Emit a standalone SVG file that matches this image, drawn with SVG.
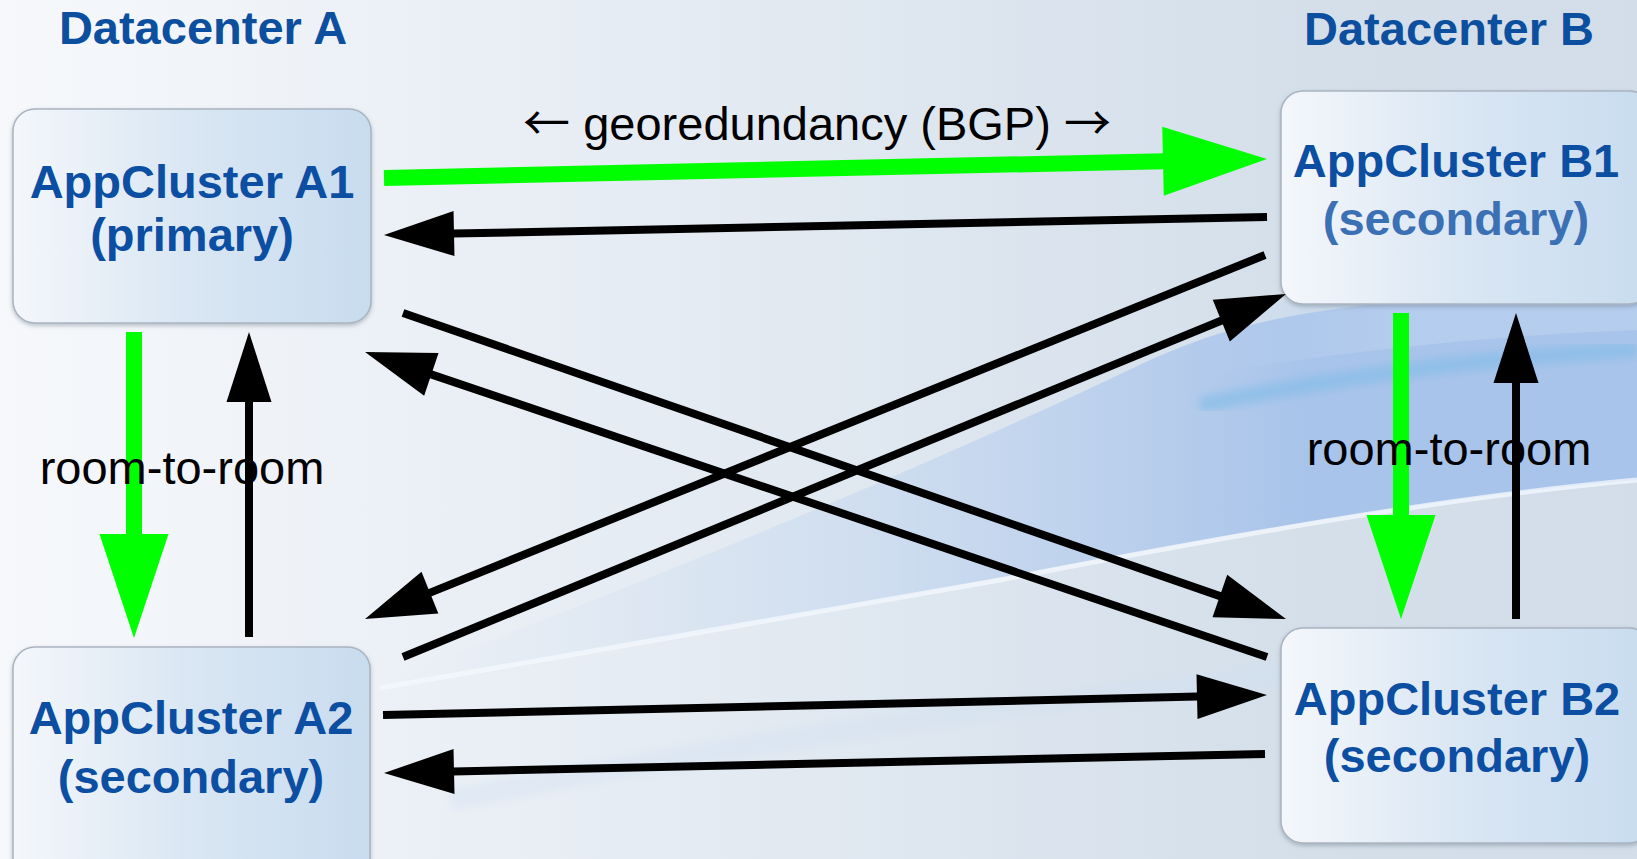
<svg xmlns="http://www.w3.org/2000/svg" width="1637" height="859" viewBox="0 0 1637 859">
<style>
.hdr{font-family:"Liberation Sans",Arial,sans-serif;font-weight:bold;font-size:47px;fill:#0c4f9e;text-anchor:middle}
.nt{font-family:"Liberation Sans",Arial,sans-serif;font-weight:bold;font-size:47px;fill:#0b4ea2;text-anchor:middle}
.lbl{font-family:"Liberation Sans",Arial,sans-serif;font-size:47px;fill:#000}
.arw{font-family:"Noto Sans CJK JP","Noto Sans",sans-serif}
.box{fill:url(#boxg);stroke:#aab4c0;stroke-width:1.5}
.blk{stroke:#000;stroke-width:8;fill:none}
.grn{stroke:#00ff00;stroke-width:16;fill:none}
</style>
<defs>
<linearGradient id="bg" x1="0" y1="0" x2="1" y2="0">
<stop offset="0" stop-color="#f6f8fb"/>
<stop offset="0.45" stop-color="#e3eaf2"/>
<stop offset="0.8" stop-color="#d4dfea"/>
<stop offset="1" stop-color="#d2dde9"/>
</linearGradient>
<linearGradient id="band" gradientUnits="userSpaceOnUse" x1="400" y1="0" x2="1300" y2="0">
<stop offset="0" stop-color="#d5e2f2" stop-opacity="0"/>
<stop offset="0.55" stop-color="#c6d8ef" stop-opacity="0.7"/>
<stop offset="1" stop-color="#a9c4ea" stop-opacity="1"/>
</linearGradient>
<linearGradient id="patch" gradientUnits="userSpaceOnUse" x1="1200" y1="0" x2="1400" y2="0">
<stop offset="0" stop-color="#bcd3f0" stop-opacity="0"/>
<stop offset="1" stop-color="#bcd3f0" stop-opacity="0.6"/>
</linearGradient>
<linearGradient id="boxg" x1="0" y1="0" x2="1" y2="0">
<stop offset="0" stop-color="#f4f7fb"/>
<stop offset="0.5" stop-color="#d9e6f3"/>
<stop offset="1" stop-color="#c8dcef"/>
</linearGradient>
<filter id="sh" x="-10%" y="-10%" width="120%" height="130%">
<feDropShadow dx="0" dy="2" stdDeviation="2" flood-color="#6a7888" flood-opacity="0.45"/>
</filter>
<filter id="blur"><feGaussianBlur stdDeviation="4"/></filter>
<marker id="hb" markerUnits="userSpaceOnUse" markerWidth="70" markerHeight="46" refX="0" refY="22.5" orient="auto" overflow="visible">
<path d="M-1,0 L69,22.5 L-1,45 Z" fill="#000"/>
</marker>
<marker id="hg" markerUnits="userSpaceOnUse" markerWidth="104" markerHeight="70" refX="0" refY="34.5" orient="auto" overflow="visible">
<path d="M-1,0 L103,34.5 L-1,69 Z" fill="#00ff00"/>
</marker>
</defs>

<g id="background">
<rect x="0" y="0" width="1637" height="859" fill="url(#bg)"/>
<path d="M380,682 C600,600 900,480 1150,360 C1230,325 1300,300 1637,285 L1637,480 C1450,495 1250,530 1000,578 C800,615 600,650 380,690 Z" fill="url(#band)"/>
<path d="M1200,305 C1350,300 1500,292 1637,290 L1637,330 C1500,335 1350,350 1200,375 Z" fill="url(#patch)"/>
<path d="M1200,405 C1350,375 1480,358 1637,350" stroke="#86bde8" stroke-width="16" fill="none" opacity="0.7" filter="url(#blur)"/>
<path d="M380,688 C600,650 800,615 1000,580 C1250,532 1450,497 1637,480" stroke="#f4f8fd" stroke-width="5" fill="none" opacity="0.75"/>
<path d="M450,800 C750,740 1050,700 1280,675" stroke="#cfdff2" stroke-width="22" fill="none" opacity="0.35" filter="url(#blur)"/>
</g>

<text class="hdr" x="203" y="44">Datacenter A</text>
<text class="hdr" x="1449" y="45">Datacenter B</text>

<g id="A1">
<rect class="box" x="13" y="109" width="358" height="214" rx="22" filter="url(#sh)"/>
<text class="nt" x="192" y="198">AppCluster A1</text>
<text class="nt" x="192" y="251">(primary)</text>
</g>
<g id="B1">
<rect class="box" x="1281" y="91" width="370" height="213" rx="22" filter="url(#sh)"/>
<text class="nt" x="1456" y="177">AppCluster B1</text>
<text class="nt" x="1456" y="235" style="fill:#3b71b4">(secondary)</text>
</g>
<g id="A2">
<rect class="box" x="13" y="647" width="357" height="240" rx="22" filter="url(#sh)"/>
<text class="nt" x="191" y="734">AppCluster A2</text>
<text class="nt" x="191" y="793">(secondary)</text>
</g>
<g id="B2">
<rect class="box" x="1281" y="628" width="370" height="215" rx="22" filter="url(#sh)"/>
<text class="nt" x="1457" y="715">AppCluster B2</text>
<text class="nt" x="1457" y="772">(secondary)</text>
</g>

<g id="connectors">
<path class="grn" d="M384,178 L1164,161.2" marker-end="url(#hg)"/>
<path class="blk" d="M1267,217 L453,233.6" marker-end="url(#hb)"/>
<path class="grn" d="M134,332 L134,535" marker-end="url(#hg)"/>
<path class="blk" d="M249,637 L249,401" marker-end="url(#hb)"/>
<path class="grn" d="M1401,313 L1401,516" marker-end="url(#hg)"/>
<path class="blk" d="M1516,619 L1516,382" marker-end="url(#hb)"/>
<path class="blk" d="M403,313 L1220.8,596.4" marker-end="url(#hb)"/>
<path class="blk" d="M1267,657 L430.4,374.1" marker-end="url(#hb)"/>
<path class="blk" d="M1265,255 L429,593.1" marker-end="url(#hb)"/>
<path class="blk" d="M403,657 L1222.2,320.2" marker-end="url(#hb)"/>
<path class="blk" d="M383,715 L1198,696.6" marker-end="url(#hb)"/>
<path class="blk" d="M1265,754 L453,771.5" marker-end="url(#hb)"/>
</g>

<g id="labels">
<text class="lbl" x="817" y="140" text-anchor="middle"><tspan class="arw">←</tspan> georedundancy (BGP) <tspan class="arw">→</tspan></text>
<text class="lbl" x="182" y="484" text-anchor="middle">room-to-room</text>
<text class="lbl" x="1449" y="465" text-anchor="middle">room-to-room</text>
</g>
</svg>
